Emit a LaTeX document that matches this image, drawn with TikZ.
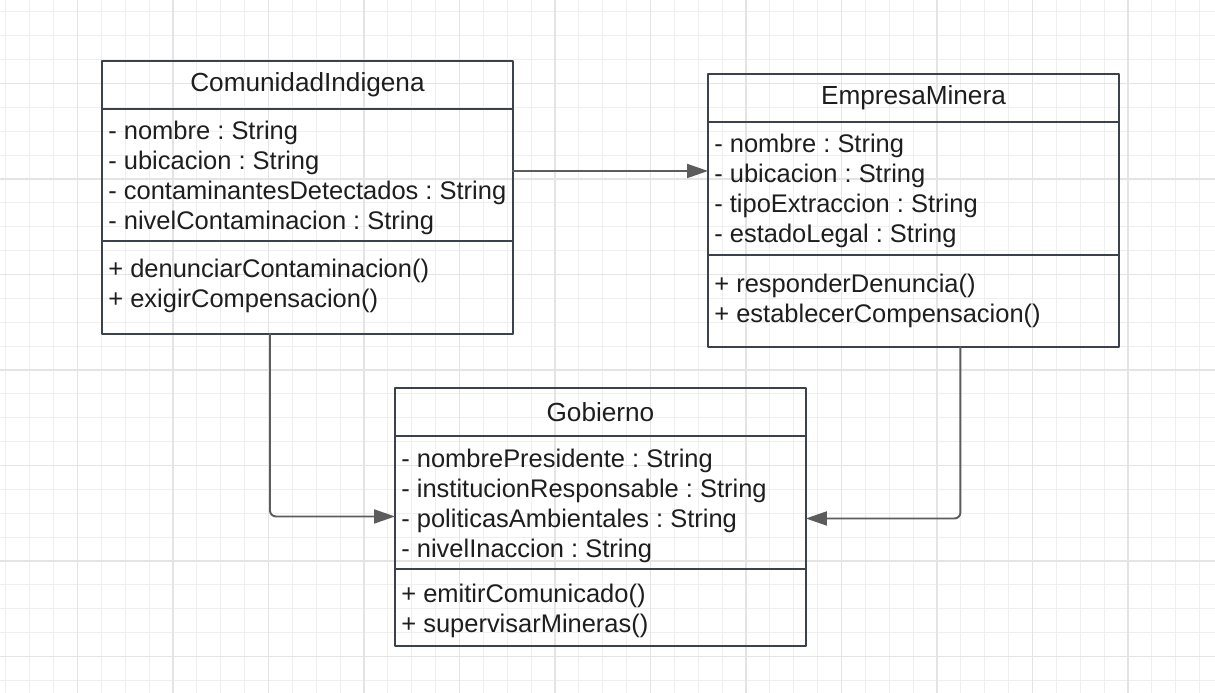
\documentclass[tikz,border=0pt]{standalone}
\usepackage{fontspec}
\setmainfont{Liberation Sans}
\usepackage{tikz}
\usetikzlibrary{arrows.meta}

\definecolor{gridminor}{HTML}{EFEFEF}
\definecolor{gridmajor}{HTML}{E4E4E4}
\definecolor{boxline}{HTML}{3B424C}
\definecolor{conline}{HTML}{5C5C5C}
\definecolor{txt}{HTML}{1E1E1E}

\tikzset{
  clshead/.style={draw=boxline,line width=1.1pt,minimum width=8.22cm,
    minimum height=0.96cm,inner sep=0pt,outer sep=0pt,anchor=north west,
    font=\fontsize{14.9}{17}\selectfont,text=txt},
  clspart/.style={draw=boxline,line width=1.1pt,minimum width=8.22cm,
    inner sep=0pt,outer sep=0pt,anchor=north west},
  clstext/.style={anchor=base west,inner sep=0pt,
    font=\fontsize{14.5}{17}\selectfont\frenchspacing,text=txt},
  assoc/.style={draw=conline,line width=1.1pt,rounded corners=0.12cm,
    -{Triangle[length=0.42cm,width=0.28cm]}}
}

\begin{document}
\begin{tikzpicture}[line cap=round,line join=round
  ,x=0.02cm,y=-0.02cm]
  \useasboundingbox (0,0) rectangle (1215,693);
  \fill[white] (0,0) rectangle (1215,693);
  % grid
  \foreach \i in {0,...,50}
  \draw[gridminor,line width=0.5pt] ({5.9+23.875*\i},0) -- ++(0,693);
  \foreach \i in {0,...,28}
  \draw[gridminor,line width=0.5pt] (0,{11.9+23.875*\i}) -- ++(1215,0);
  \foreach \i in {0,...,11}
  \draw[gridmajor,line width=0.7pt] ({77.5+95.5*\i},0) -- ++(0,693);
  \foreach \i in {0,...,6}
  \draw[gridmajor,line width=0.7pt] (0,{83.5+95.5*\i}) -- ++(1215,0);

  % ComunidadIndigena
  \node[clshead] (cihead) at (102,61) {ComunidadIndigena};
  \node[clspart,minimum height=2.64cm] (ciattr) at (cihead.south west) {};
  \node[clspart,minimum height=1.86cm] (cimeth) at (ciattr.south west) {};
  \foreach \t [count=\i] in {- nombre : String,- ubicacion : String,
    - contaminantesDetectados : String,- nivelContaminacion : String}
  \node[clstext] (cia\i) at (108,{109+30*\i}) {\t};
  \foreach \t [count=\i] in {+ denunciarContaminacion(),+ exigirCompensacion()}
  \node[clstext] (cim\i) at (108,{247+30*\i}) {\t};

  % EmpresaMinera
  \node[clshead] (emhead) at (708,74) {EmpresaMinera};
  \node[clspart,minimum height=2.66cm] (emattr) at (emhead.south west) {};
  \node[clspart,minimum height=1.84cm] (emmeth) at (emattr.south west) {};
  \foreach \t [count=\i] in {- nombre : String,- ubicacion : String,
    - tipoExtraccion : String,- estadoLegal : String}
  \node[clstext] (ema\i) at (714,{122+30*\i}) {\t};
  \foreach \t [count=\i] in {+ responderDenuncia(),+ establecerCompensacion()}
  \node[clstext] (emm\i) at (714,{262+30*\i}) {\t};

  % Gobierno
  \node[clshead] (gohead) at (395,388) {Gobierno};
  \node[clspart,minimum height=2.66cm] (goattr) at (gohead.south west) {};
  \node[clspart,minimum height=1.54cm] (gometh) at (goattr.south west) {};
  \foreach \t [count=\i] in {- nombrePresidente : String,
    - institucionResponsable : String,- politicasAmbientales : String,
    - nivelInaccion : String}
  \node[clstext] (goa\i) at (401,{437+30*\i}) {\t};
  \foreach \t [count=\i] in {+ emitirComunicado(),+ supervisarMineras()}
  \node[clstext] (gom\i) at (401,{572+30*\i}) {\t};

  % connectors
  \coordinate (ciright) at ([yshift=0.08cm]ciattr.east);
  \draw[assoc] (ciright) -- (ciright -| emattr.west);
  \coordinate (cibottom) at ([xshift=-0.75cm]cimeth.south);
  \coordinate (goleft) at ([yshift=-0.28cm]goattr.west);
  \draw[assoc] (cibottom) |- (goleft);
  \coordinate (embottom) at ([xshift=0.94cm]emmeth.south);
  \coordinate (goright) at ([yshift=-0.32cm]goattr.east);
  \draw[assoc] (embottom) |- (goright);
\end{tikzpicture}
\end{document}
